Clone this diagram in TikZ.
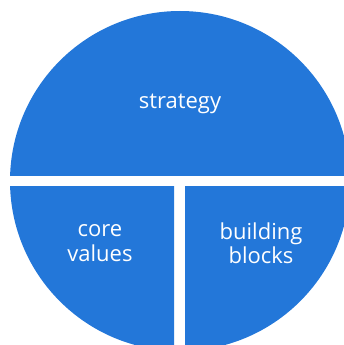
\documentclass[tikz,border=0pt]{standalone}
\usepackage{fontspec}
\setmainfont{Open Sans}
\definecolor{pieblue}{HTML}{2377D9}
\begin{document}
\begin{tikzpicture}[x=1pt,y=-1pt,
  label/.style={text=white,font=\fontsize{22}{24.5}\selectfont,align=center,inner sep=0pt}]
\useasboundingbox (0,0) rectangle (344,345);
\clip (0,0) rectangle (344,345);
% top half
\begin{scope}
  \clip (0,0) rectangle (344,175);
  \fill[pieblue] (180,181) circle (170);
\end{scope}
% lower left quarter
\begin{scope}
  \clip (0,186) rectangle (174,345);
  \fill[pieblue] (180,181) circle (170);
\end{scope}
% lower right quarter
\begin{scope}
  \clip (185,186) rectangle (344,345);
  \fill[pieblue] (180,181) circle (170);
\end{scope}
\node[label] (strategy) at (180,104) {strategy};
\node[label] (core) at (100,243) {core\\values};
\node[label] (blocks) at (261,243) {building\\blocks};
\end{tikzpicture}
\end{document}
